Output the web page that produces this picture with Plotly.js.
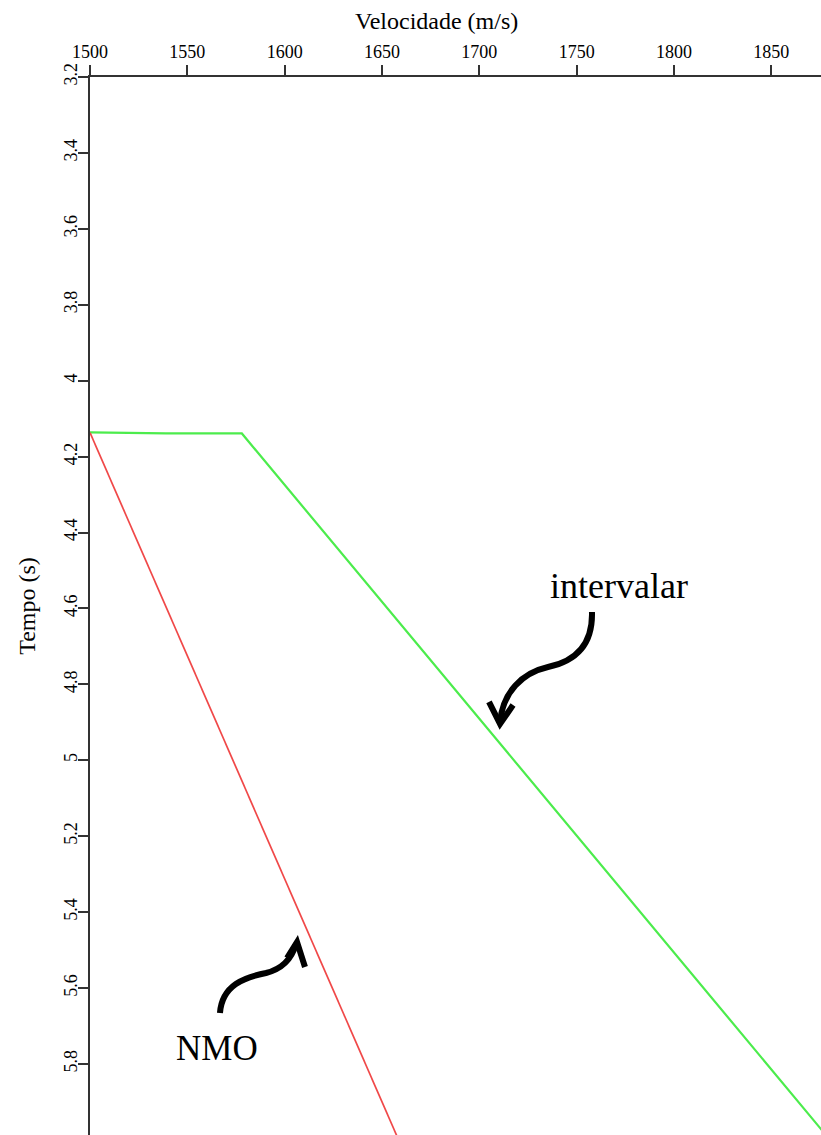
<!DOCTYPE html>
<html>
<head>
<meta charset="utf-8">
<script src="https://cdn.plot.ly/plotly-3.0.1.min.js"></script>
<style>html,body{margin:0;padding:0;background:#fff}#chart{width:821px;height:1135px}</style>
</head>
<body>
<div id="chart"></div>
<script>
// Data
const velocidadeIntervalar = [1500, 1539, 1578, 1885];
const tempoIntervalar = [4.136, 4.139, 4.139, 6.03];
const velocidadeNMO = [1500, 1665];
const tempoNMO = [4.137, 6.076];
const xTickVals = [1500, 1550, 1600, 1650, 1700, 1750, 1800, 1850];
const yTickVals = [3.2, 3.4, 3.6, 3.8, 4.0, 4.2, 4.4, 4.6, 4.8, 5.0, 5.2, 5.4, 5.6, 5.8];
const labelIntervalar = "intervalar";
const labelNMO = "NMO";
const xTitle = "Velocidade (m/s)";
const yTitle = "Tempo (s)";

const FONT = "Liberation Serif, Times New Roman, serif";
const ML = 90, MT = 77, W = 821, H = 1135;
const PW = W - ML, PH = H - MT;
function px(x){ return (x - ML) / PW; }
function py(y){ return 1 - (y - MT) / PH; }
function pathFrom(cmds){
  return cmds.map(c => c[0] + ' ' + c.slice(1).map(p => px(p[0]).toFixed(4) + ',' + py(p[1]).toFixed(4)).join(' ')).join(' ');
}

const traces = [
  {x: velocidadeIntervalar, y: tempoIntervalar, mode: 'lines', name: labelIntervalar,
   line: {color: '#4cec4c', width: 2.2}, cliponaxis: true, hoverinfo: 'skip'},
  {x: velocidadeNMO, y: tempoNMO, mode: 'lines', name: labelNMO,
   line: {color: '#f04848', width: 1.7}, cliponaxis: true, hoverinfo: 'skip'}
];

const arrowStyle = {color: '#000', width: 6};
const shapes = [
  {type: 'path', xref: 'paper', yref: 'paper', line: arrowStyle,
   path: pathFrom([['M',[592,612]],['C',[593,648],[572,662],[548,667]],['C',[522,673],[503,692],[500,722]]])},
  {type: 'path', xref: 'paper', yref: 'paper', line: arrowStyle,
   path: pathFrom([['M',[489,702]],['L',[500,724]],['L',[513,705]]])},
  {type: 'path', xref: 'paper', yref: 'paper', line: arrowStyle,
   path: pathFrom([['M',[220,1013]],['C',[222,985],[245,977],[266,973]],['C',[282,969],[292,958],[296,944]]])},
  {type: 'path', xref: 'paper', yref: 'paper', line: arrowStyle,
   path: pathFrom([['M',[287,958]],['L',[297,942]],['L',[305,967]]])}
];

const layout = {
  width: W, height: H,
  margin: {l: ML, r: 0, t: MT, b: 0, pad: 0},
  paper_bgcolor: '#fff', plot_bgcolor: '#fff',
  showlegend: false,
  font: {family: FONT, color: '#000'},
  xaxis: {
    side: 'top', range: [1500, 1875.5], tickvals: xTickVals,
    ticks: 'outside', ticklen: 10, tickwidth: 2, tickcolor: '#333',
    showline: true, linecolor: '#333', linewidth: 2, showgrid: false, zeroline: false,
    tickfont: {family: FONT, size: 18, color: '#000'},
    ticklabelstandoff: 0,
    automargin: false
  },
  yaxis: {
    range: [5.987, 3.2], tickvals: yTickVals, tickangle: -90,
    ticks: 'outside', ticklen: 10, tickwidth: 2, tickcolor: '#333',
    showline: true, linecolor: '#333', linewidth: 2, showgrid: false, zeroline: false,
    tickfont: {family: FONT, size: 18, color: '#000'},
    ticklabelstandoff: -6,
    title: {text: yTitle, font: {family: FONT, size: 24, color: '#000'}, standoff: 18},
    automargin: false
  },
  shapes: shapes,
  annotations: [
    {xref: 'paper', yref: 'paper', x: px(436), y: py(21), text: xTitle, showarrow: false,
     font: {family: FONT, size: 24, color: '#000'}, xanchor: 'center', yanchor: 'middle'},
    {xref: 'paper', yref: 'paper', x: px(619), y: py(586), text: labelIntervalar, showarrow: false,
     font: {family: FONT, size: 36, color: '#000'}, xanchor: 'center', yanchor: 'middle'},
    {xref: 'paper', yref: 'paper', x: px(217), y: py(1048), text: labelNMO, showarrow: false,
     font: {family: FONT, size: 35, color: '#000'}, xanchor: 'center', yanchor: 'middle'}
  ]
};

Plotly.newPlot('chart', traces, layout, {displayModeBar: false, staticPlot: true});
</script>
</body>
</html>
